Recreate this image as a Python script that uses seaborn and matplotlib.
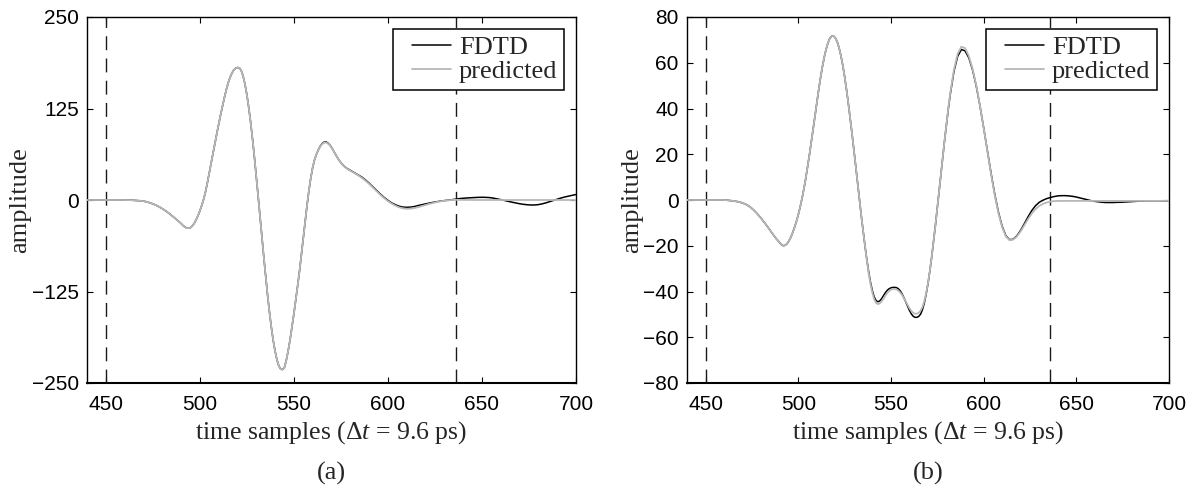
import matplotlib
matplotlib.use("Agg")
import matplotlib.pyplot as plt
from matplotlib.legend_handler import HandlerLine2D
from matplotlib.lines import Line2D
import seaborn as sns

# ---------------- data ----------------
# time-sample positions at which the waveforms were read
samples = ([440, 450, 460, 464, 468] + list(range(470, 490, 2))
           + list(range(490, 582)) + list(range(582, 701, 2)))

# window edges (dashed lines)
window_edges = [450, 636]

# (a) part where FDTD and predicted coincide (440 .. 560)
a_shared = [0, 0, 0, -0.3, -1.0,
            -1.6, -2.6, -4.3, -6.3, -8.8, -11.8, -15.2, -19.0, -23.2, -27.6,
            -32.0, -34.8, -36.8, -38.1, -38.6, -37.8, -35.5, -31.8, -27.0, -21.5,
            -15.0, -7.5, 1.0, 11.0, 23.5, 37.0, 51.0, 64.5, 77.5, 90.5,
            103.5, 116.0, 128.0, 139.5, 150.0, 159.5, 167.0, 173.0, 177.5, 180.0,
            181.0, 180.5, 176.8, 169.3, 158.2, 143.8, 126.3, 106.1, 83.5, 58.8,
            32.5, 5.1, -22.7, -50.6, -78.0, -104.4, -129.7, -152.8, -173.6, -191.7,
            -206.5, -218.3, -226.7, -231.1, -231.6, -228.5, -218.5, -205.5, -190.5, -173.5,
            -155.5, -136.5, -117.0, -97.0, -75.0, -52.0, -29.0, -7.0, 13.0, 30.5,
            44.5]
# (a) FDTD after 560
a_fdtd_tail = [55, 62.5, 68.5, 73.5, 77, 79, 79.5, 78, 75.5, 72,
               67.5, 63, 58.5, 54.5, 51, 48, 45.5, 43.5, 42, 40.5, 39,
               37.5, 34.5, 31.5, 27.5, 23, 18, 13, 8, 3.5, -0.5,
               -4, -6.5, -8.5, -9.7, -10, -9.7, -9.0, -7.6, -6.4, -5.3,
               -4.2, -3.2, -2.3, -1.5, -0.8, -0.2, 0.4, 1.2, 1.9, 2.4,
               2.8, 3.1, 3.4, 3.6, 3.7, 3.6, 3.3, 2.6, 1.6, 0.5,
               -0.7, -1.9, -3.0, -4.1, -5.1, -5.9, -6.5, -6.8, -6.8, -6.3,
               -5.3, -3.9, -2.3, -0.6, 1.1, 2.7, 4.1, 5.3, 6.4, 7.5]
# (a) predicted after 560
a_pred_tail = [55, 62.5, 68.3, 73, 76.3, 78.2, 78.6, 77.3, 75, 71.7,
               67.5, 63, 58.5, 54.5, 51, 48, 45.3, 43.2, 41.5, 40, 38.5,
               37, 34, 30.5, 26.5, 22, 17, 12, 7, 2.5, -1.5,
               -5, -7.8, -10, -11.4, -12, -11.8, -11, -9.8, -8.3, -6.8,
               -5.3, -4, -2.8, -1.8, -1.0, -0.4, 0, 0.2, 0.2, 0.1,
               0.1, 0, 0, 0, 0, 0, 0, 0, 0, 0,
               0, 0, 0, 0, 0, 0, 0, 0, 0, 0,
               0, 0, 0, 0, 0, 0, 0, 0, 0, 0]

# (b) part where FDTD and predicted coincide (440 .. 536)
b_shared = [0, 0, 0, -0.3, -0.8,
            -1.3, -2.0, -3.0, -4.4, -6.1, -8.0, -10.1, -12.3, -14.6, -16.8,
            -18.6, -19.6, -20.0, -19.8, -19.1, -17.9, -16.3, -14.3, -12.0, -9.4,
            -6.5, -3.2, 0.5, 4.6, 9.2, 14.2, 19.5, 25.0, 30.8, 36.6,
            42.4, 48.0, 53.3, 58.1, 62.3, 65.8, 68.6, 70.6, 71.6, 71.7,
            70.9, 69.2, 66.6, 63.2, 59.0, 54.1, 48.5, 42.4, 35.9, 29.1,
            22.1, 14.9, 7.6, 0.3, -6.8, -13.6, -20.0]
# (b) FDTD after 536
b_fdtd_tail = [-26.0, -31.4, -36.0, -39.7, -42.4, -44.0, -44.5, -44.1, -43.1, -41.8,
               -40.5, -39.5, -38.8, -38.4, -38.2, -38.2, -38.3, -38.8, -39.7, -41.0,
               -42.7, -44.6, -46.5, -48.3, -49.8, -50.8, -51.3, -51.3, -50.9, -49.9,
               -48.0, -45.1, -41.2, -36.5, -31.0, -24.9, -18.2, -11.1, -3.7, 3.9,
               11.5, 19.1, 26.4, 33.4, 40.1,
               46.1, 56.2, 62.8, 65.8, 65.2, 62.2, 57.0, 49.9, 41.3, 31.7,
               21.7, 11.8, 2.6, -5.3, -11.5, -15.6, -17.4, -17.1, -15.6, -13.2,
               -10.3, -7.3, -4.6, -2.5, -1.0, -0.1, 0.6, 1.1, 1.5, 1.8,
               1.9, 1.9, 1.8, 1.6, 1.3, 0.9, 0.5, 0.1, -0.3, -0.6,
               -0.8, -1.0, -1.1, -1.1, -1.1, -1.0, -1.0, -0.9, -0.8, -0.7,
               -0.6, -0.5, -0.5, -0.4, -0.4, -0.4, -0.4, -0.4, -0.5, -0.5]
# (b) predicted after 536
b_pred_tail = [-26.3, -32.0, -36.8, -40.6, -43.4, -45.0, -45.5, -45.2, -44.3, -43.1,
               -41.8, -40.7, -39.8, -39.2, -38.9, -38.9, -39.1, -39.6, -40.4, -41.5,
               -42.9, -44.4, -45.9, -47.3, -48.5, -49.3, -49.7, -49.7, -49.3, -48.4,
               -46.8, -44.3, -40.8, -36.3, -31.0, -24.9, -18.2, -11.1, -3.7, 3.9,
               11.5, 19.1, 26.5, 33.6, 40.4,
               46.6, 57.0, 63.9, 67.0, 66.4, 63.0, 57.5, 50.2, 41.4, 31.6,
               21.4, 11.4, 2.1, -5.8, -11.9, -15.9, -17.6, -17.3, -15.9, -13.7,
               -11.0, -8.3, -5.9, -4.0, -2.6, -1.7, -1.1, -0.7, -0.5, -0.4,
               -0.4, -0.4, -0.4, -0.4, -0.4, -0.4, -0.4, -0.4, -0.4, -0.4,
               -0.4, -0.4, -0.4, -0.4, -0.4, -0.4, -0.4, -0.4, -0.4, -0.4,
               -0.4, -0.4, -0.4, -0.4, -0.4, -0.4, -0.4, -0.4, -0.4, -0.4]

fdtd_a = a_shared + a_fdtd_tail
pred_a = a_shared + a_pred_tail
fdtd_b = b_shared + b_fdtd_tail
pred_b = b_shared + b_pred_tail

xticks = [450, 500, 550, 600, 650, 700]
yticks_a = [-250, -125, 0, 125, 250]
yticks_b = [-80, -60, -40, -20, 0, 20, 40, 60, 80]
series_labels = ["FDTD", "predicted"]
captions = ["(a)", "(b)"]
xlabel_text = "time samples (\u0394$t$ = 9.6 ps)"
ylabel_text = "amplitude"

# ---------------- style ----------------
sns.set_theme(style="ticks")
plt.rcParams["font.family"] = ["Liberation Sans", "DejaVu Sans"]
plt.rcParams["mathtext.fontset"] = "custom"
plt.rcParams["mathtext.rm"] = "Liberation Serif"
plt.rcParams["mathtext.it"] = "Liberation Serif:italic"
SERIF = ["Liberation Serif", "DejaVu Serif"]

fig = plt.figure(figsize=(12.03, 4.88), dpi=100)
W, H = 1203, 488
axA = fig.add_axes([87 / W, 105 / H, 489 / W, 366 / H])
axB = fig.add_axes([687 / W, 105 / H, 482 / W, 366 / H])


def draw(ax, fdtd, pred, ylim, yticks, caption):
    sns.lineplot(x=samples, y=fdtd, ax=ax, color="black", lw=1.1,
                 label=series_labels[0], estimator=None, sort=False, zorder=3)
    sns.lineplot(x=samples, y=pred, ax=ax, color="#b8b8b8", lw=1.3,
                 label=series_labels[1], estimator=None, sort=False, zorder=4)
    for xv in window_edges:
        ax.axvline(xv, color="#1a1a1a", lw=1.0, dashes=(10, 6), zorder=2)
    ax.set_xlim(440, 700)
    ax.set_ylim(*ylim)
    ax.set_xticks(xticks)
    ax.set_yticks(yticks)
    ax.tick_params(direction="in", length=4, width=0.8, top=True, right=True,
                   labelsize=15, colors="black")
    ax.tick_params(axis="x", pad=9)
    ax.tick_params(axis="y", pad=6)
    for side, sp in ax.spines.items():
        sp.set_visible(True)
        sp.set_color("black")
        sp.set_linewidth(1.5 if side == "bottom" else 1.0)
    ax.set_xlabel(xlabel_text, family=SERIF, fontsize=18.5, labelpad=3)
    ax.set_ylabel(ylabel_text, family=SERIF, fontsize=19, labelpad=0)
    handles, labels = ax.get_legend_handles_labels()
    leg = ax.legend(handles, labels, loc="upper right",
                    prop={"family": SERIF, "size": 19},
                    frameon=True, fancybox=False, framealpha=1,
                    edgecolor="black", borderpad=0.25, labelspacing=0.02,
                    handlelength=1.95, handletextpad=0.3, borderaxespad=0.45,
                    handler_map={Line2D: HandlerLine2D(xpad=0.45)})
    leg.get_frame().set_linewidth(1.1)
    pos = ax.get_position()
    fig.text(pos.x0 + pos.width / 2, 1 - 473 / H, caption, ha="center",
             va="center", family=SERIF, fontsize=19)


draw(axA, fdtd_a, pred_a, (-250, 250), yticks_a, captions[0])
draw(axB, fdtd_b, pred_b, (-80, 80), yticks_b, captions[1])

fig.savefig("out.png", dpi=100)
